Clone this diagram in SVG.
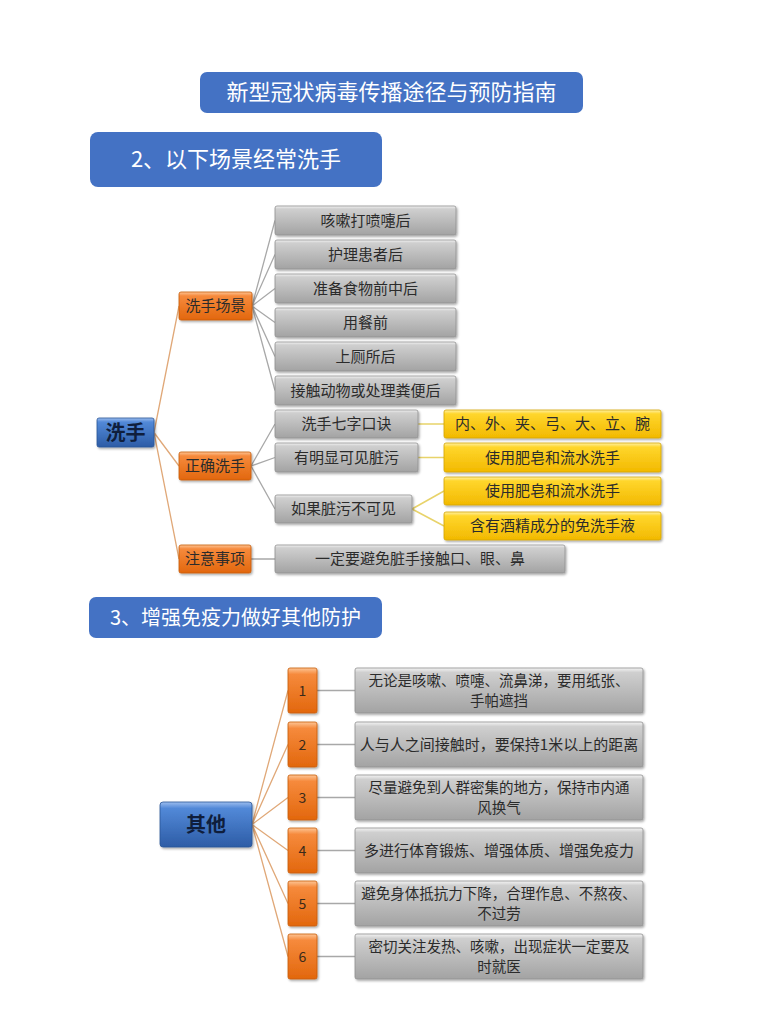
<svg xmlns="http://www.w3.org/2000/svg" width="784" height="1024" viewBox="0 0 784 1024">
<defs>
<linearGradient id="gGray" x1="0" y1="0" x2="0" y2="1">
<stop offset="0" stop-color="#f4f4f4"/><stop offset="0.1" stop-color="#cfcfcf"/><stop offset="1" stop-color="#a3a3a3"/>
</linearGradient>
<linearGradient id="gOrange" x1="0" y1="0" x2="0" y2="1">
<stop offset="0" stop-color="#fdc595"/><stop offset="0.14" stop-color="#f68a3c"/><stop offset="1" stop-color="#e2670d"/>
</linearGradient>
<linearGradient id="gYellow" x1="0" y1="0" x2="0" y2="1">
<stop offset="0" stop-color="#fff1a6"/><stop offset="0.14" stop-color="#ffd62c"/><stop offset="1" stop-color="#f2b900"/>
</linearGradient>
<linearGradient id="gBlue" x1="0" y1="0" x2="0" y2="1">
<stop offset="0" stop-color="#9dbdee"/><stop offset="0.14" stop-color="#5289d8"/><stop offset="1" stop-color="#2d5ca6"/>
</linearGradient>
<filter id="sh" x="-10%" y="-20%" width="125%" height="150%">
<feDropShadow dx="1.2" dy="1.5" stdDeviation="0.9" flood-color="#000" flood-opacity="0.35"/>
</filter>
</defs>
<style>
text{font-family:"Noto Sans CJK SC","Liberation Sans",sans-serif;text-anchor:middle}
.hdr{fill:#4472c4}
.hdrT{fill:#ffffff;font-size:21px}
.gray{fill:url(#gGray);stroke:#8f8f8f;stroke-width:0.8;filter:url(#sh)}
.org{fill:url(#gOrange);stroke:#c85a08;stroke-width:0.8;filter:url(#sh)}
.yel{fill:url(#gYellow);stroke:#d4a400;stroke-width:0.8;filter:url(#sh)}
.blu{fill:url(#gBlue);stroke:#2a5598;stroke-width:0.8;filter:url(#sh)}
.t{font-size:15px;fill:#2b2b2b}
.t2{font-size:14.5px;fill:#2b2b2b}
.tb{font-size:20px;font-weight:bold;fill:#0f1e3c}
.n{font-size:14px;fill:#3a2a1a}
.lo{stroke:#e0a878;stroke-width:1.3;fill:none}
.lg{stroke:#a8a8a8;stroke-width:1.3;fill:none}
.ly{stroke:#e8d36a;stroke-width:1.5;fill:none}
</style>

<g id="title">
<rect class="hdr" x="200" y="72" width="383" height="41" rx="7"/>
<text class="hdrT" x="391.5" y="100" style="font-size:22px">新型冠状病毒传播途径与预防指南</text>
</g>
<g id="sec2">
<rect class="hdr" x="90" y="132" width="292" height="55" rx="8"/>
<text class="hdrT" x="236" y="167" style="font-size:22px">2、以下场景经常洗手</text>
</g>
<g id="sec3">
<rect class="hdr" x="89" y="597" width="293" height="41" rx="7"/>
<text class="hdrT" x="235.5" y="624.5" style="font-size:20px">3、增强免疫力做好其他防护</text>
</g>

<g id="connectors">
<path class="lo" d="M154,432.5 L179,306 M154,432.5 L179,466 M154,432.5 L179,559"/>
<path class="lg" d="M252,306 L275,220.5 M252,306 L275,254.5 M252,306 L275,288.5 M252,306 L275,322.5 M252,306 L275,356.5 M252,306 L275,390.5"/>
<path class="lg" d="M251,466 L275,424 M251,466 L275,457.5 M251,466 L275,509 M251,559 L275,559"/>
<path class="ly" d="M418,424 L444,424 M418,457.5 L444,457.5 M412,509 L444,491 M412,509 L444,526"/>
<path class="lo" d="M252,824.5 L288,690.5 M252,824.5 L288,744.5 M252,824.5 L288,797.5 M252,824.5 L288,850.5 M252,824.5 L288,903.5 M252,824.5 L288,956.5"/>
<path class="lg" d="M317,690.5 L355,690.5 M317,744.5 L355,744.5 M317,797.5 L355,797.5 M317,850.5 L355,850.5 M317,903.5 L355,903.5 M317,956.5 L355,956.5"/>
</g>

<g id="n-xishou"><rect class="blu" x="97" y="418" width="57" height="29" rx="2"/><text class="tb" x="125.5" y="439.5">洗手</text></g>
<g id="n-changjing"><rect class="org" x="179" y="292" width="73" height="28" rx="2"/><text class="t" x="215.5" y="311">洗手场景</text></g>
<g id="n-zhengque"><rect class="org" x="179" y="452" width="72" height="28" rx="2"/><text class="t" x="215" y="471">正确洗手</text></g>
<g id="n-zhuyi"><rect class="org" x="179" y="545" width="72" height="28" rx="2"/><text class="t" x="215" y="564">注意事项</text></g>

<g id="s1"><rect class="gray" x="275" y="206" width="181" height="29" rx="2"/><text class="t" x="365.5" y="225.5">咳嗽打喷嚏后</text></g>
<g id="s2"><rect class="gray" x="275" y="240" width="181" height="29" rx="2"/><text class="t" x="365.5" y="259.5">护理患者后</text></g>
<g id="s3"><rect class="gray" x="275" y="274" width="181" height="29" rx="2"/><text class="t" x="365.5" y="293.5">准备食物前中后</text></g>
<g id="s4"><rect class="gray" x="275" y="308" width="181" height="29" rx="2"/><text class="t" x="365.5" y="327.5">用餐前</text></g>
<g id="s5"><rect class="gray" x="275" y="342" width="181" height="29" rx="2"/><text class="t" x="365.5" y="361.5">上厕所后</text></g>
<g id="s6"><rect class="gray" x="275" y="376" width="181" height="29" rx="2"/><text class="t" x="365.5" y="395.5">接触动物或处理粪便后</text></g>

<g id="c1"><rect class="gray" x="275" y="410" width="143" height="28" rx="2"/><text class="t" x="346.5" y="429">洗手七字口诀</text></g>
<g id="c2"><rect class="gray" x="275" y="443" width="143" height="29" rx="2"/><text class="t" x="346.5" y="462.5">有明显可见脏污</text></g>
<g id="c3"><rect class="gray" x="275" y="495" width="137" height="28" rx="2"/><text class="t" x="343.5" y="514">如果脏污不可见</text></g>
<g id="z1"><rect class="gray" x="275" y="545" width="290" height="28" rx="2"/><text class="t" x="420" y="564">一定要避免脏手接触口、眼、鼻</text></g>

<g id="y1"><rect class="yel" x="444" y="410" width="217" height="28" rx="2"/><text class="t" x="552.5" y="429">内、外、夹、弓、大、立、腕</text></g>
<g id="y2"><rect class="yel" x="444" y="443" width="217" height="29" rx="2"/><text class="t" x="552.5" y="462.5">使用肥皂和流水洗手</text></g>
<g id="y3"><rect class="yel" x="444" y="477" width="217" height="28" rx="2"/><text class="t" x="552.5" y="496">使用肥皂和流水洗手</text></g>
<g id="y4"><rect class="yel" x="444" y="512" width="217" height="28" rx="2"/><text class="t" x="552.5" y="531">含有酒精成分的免洗手液</text></g>

<g id="n-qita"><rect class="blu" x="160" y="802" width="92" height="45" rx="3"/><text class="tb" x="206" y="831.5">其他</text></g>

<g id="o1"><rect class="org" x="288" y="668" width="29" height="45" rx="2"/><text class="n" x="302.5" y="695.5">1</text></g>
<g id="o2"><rect class="org" x="288" y="722" width="29" height="45" rx="2"/><text class="n" x="302.5" y="749.5">2</text></g>
<g id="o3"><rect class="org" x="288" y="775" width="29" height="45" rx="2"/><text class="n" x="302.5" y="802.5">3</text></g>
<g id="o4"><rect class="org" x="288" y="828" width="29" height="45" rx="2"/><text class="n" x="302.5" y="855.5">4</text></g>
<g id="o5"><rect class="org" x="288" y="881" width="29" height="45" rx="2"/><text class="n" x="302.5" y="908.5">5</text></g>
<g id="o6"><rect class="org" x="288" y="934" width="29" height="45" rx="2"/><text class="n" x="302.5" y="961.5">6</text></g>

<g id="p1"><rect class="gray" x="355" y="668" width="288" height="45" rx="2"/><text class="t2" x="499" y="686">无论是咳嗽、喷嚏、流鼻涕，要用纸张、</text><text class="t2" x="499" y="706">手帕遮挡</text></g>
<g id="p2"><rect class="gray" x="355" y="722" width="288" height="45" rx="2"/><text class="t" x="499" y="750">人与人之间接触时，要保持1米以上的距离</text></g>
<g id="p3"><rect class="gray" x="355" y="775" width="288" height="45" rx="2"/><text class="t2" x="499" y="793">尽量避免到人群密集的地方，保持市内通</text><text class="t2" x="499" y="813">风换气</text></g>
<g id="p4"><rect class="gray" x="355" y="828" width="288" height="45" rx="2"/><text class="t" x="499" y="856">多进行体育锻炼、增强体质、增强免疫力</text></g>
<g id="p5"><rect class="gray" x="355" y="881" width="288" height="45" rx="2"/><text class="t2" x="499" y="899">避免身体抵抗力下降，合理作息、不熬夜、</text><text class="t2" x="499" y="919">不过劳</text></g>
<g id="p6"><rect class="gray" x="355" y="934" width="288" height="45" rx="2"/><text class="t2" x="499" y="952">密切关注发热、咳嗽，出现症状一定要及</text><text class="t2" x="499" y="972">时就医</text></g>
</svg>
